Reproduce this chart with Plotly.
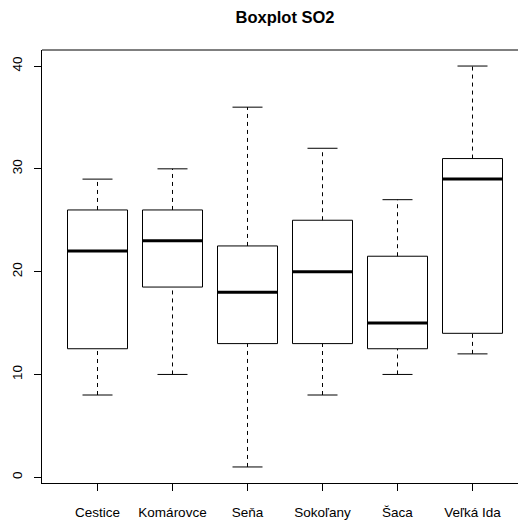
import plotly.graph_objects as go

stations = ["Cestice", "Komárovce", "Seňa", "Sokoľany", "Šaca", "Veľká Ida"]
lower = [8, 10, 1, 8, 10, 12]
q1 = [12.5, 18.5, 13, 13, 12.5, 14]
median = [22, 23, 18, 20, 15, 29]
q3 = [26, 26, 22.5, 25, 21.5, 31]
upper = [29, 30, 36, 32, 27, 40]
y_ticks = [0, 10, 20, 30, 40]

pos = list(range(1, len(stations) + 1))
fig = go.Figure()

# dashed whiskers
for i, p in enumerate(pos):
    fig.add_trace(go.Scatter(x=[p, p, None, p, p], y=[lower[i], q1[i], None, q3[i], upper[i]],
                             mode="lines", line=dict(color="black", width=1, dash="4px,4px"),
                             hoverinfo="skip", showlegend=False))
    # caps
    fig.add_trace(go.Scatter(x=[p - 0.2, p + 0.2, None, p - 0.2, p + 0.2],
                             y=[lower[i], lower[i], None, upper[i], upper[i]],
                             mode="lines", line=dict(color="black", width=1),
                             hoverinfo="skip", showlegend=False))

fig.add_trace(go.Box(x=pos, q1=q1, median=median, q3=q3, lowerfence=q1, upperfence=q3,
                     width=0.8, fillcolor="white", line=dict(color="black", width=1),
                     whiskerwidth=0, boxpoints=False, showlegend=False))

for i, p in enumerate(pos):
    fig.add_trace(go.Scatter(x=[p - 0.4, p + 0.4], y=[median[i], median[i]], mode="lines",
                             line=dict(color="black", width=3), hoverinfo="skip", showlegend=False))

fig.update_layout(
    width=518, height=520,
    margin=dict(l=42, r=0, t=50, b=37),
    paper_bgcolor="white", plot_bgcolor="white",
    font=dict(family="Liberation Sans, Arial, sans-serif", size=13.5, color="black"),
    title=dict(text="<b>Boxplot SO2</b>", x=285 / 518, xref="container", xanchor="center",
               y=1 - 17 / 520, yref="container", yanchor="middle", font=dict(size=16.5)),
    xaxis=dict(range=[0.26, 0.26 + 476 / 75], tickvals=pos, ticktext=stations,
               showgrid=False, zeroline=False, showline=True, linecolor="black", linewidth=1,
               ticks="outside", ticklen=7, tickcolor="black", ticklabelstandoff=10),
    yaxis=dict(range=[-0.56, 41.56], tickvals=y_ticks, tickangle=-90,
               showgrid=False, zeroline=False, showline=True, linecolor="black", linewidth=1,
               ticks="outside", ticklen=7, tickcolor="black", ticklabelstandoff=7),
    shapes=[dict(type="line", xref="paper", yref="paper", x0=0, x1=1, y0=1, y1=1,
                 line=dict(color="black", width=1))],
)

fig.write_html("out.html")
